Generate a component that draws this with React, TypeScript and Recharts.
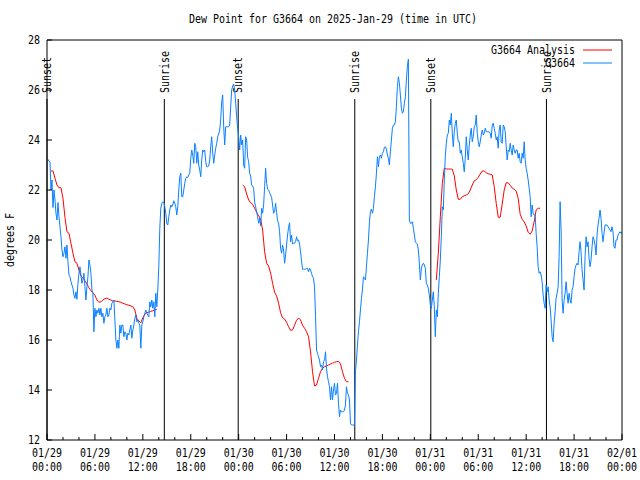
import { Legend, Line, LineChart, ReferenceLine, XAxis, YAxis } from "recharts";

// hours after 01/29 00:00 UTC
const timeTicks = [0, 2, 4, 6, 8, 10, 12, 14, 16, 18, 20, 22, 24, 26, 28, 30, 32, 34, 36, 38, 40, 42, 44, 46, 48, 50, 52, 54, 56, 58, 60, 62, 64, 66, 68, 70, 72];
const tickDates = ["01/29", "01/29", "01/29", "01/29", "01/30", "01/30", "01/30", "01/30", "01/31", "01/31", "01/31", "01/31", "02/01"];
const tickTimes = ["00:00", "06:00", "12:00", "18:00", "00:00", "06:00", "12:00", "18:00", "00:00", "06:00", "12:00", "18:00", "00:00"];
const dewTicks = [12, 14, 16, 18, 20, 22, 24, 26, 28];

const sunHours = [0, 14.69, 23.94, 38.54, 48.06, 62.54];
const sunNames = ["Sunset", "Sunrise", "Sunset", "Sunrise", "Sunset", "Sunrise"];
const SUN_LINE_TOP = 25.64;

const legendOrder = ["G3664 Analysis", "G3664"];

// station observations, one every 7.5 minutes
const OBS_STEP_H = 0.125;
const obsDewpoint = [
  23.25, 23.23, 23.15, 23.13, 22.0, 22.4, 21.3, 22.0, 21.6, 21.07,
  20.8, 21.5, 20.93, 20.53, 20.13, 19.6, 19.33, 19.47, 19.73, 19.27,
  19.8, 19.13, 18.6, 18.53, 18.33, 18.2, 18.07, 17.8, 17.67, 17.93,
  17.63, 18.27, 18.67, 18.93, 18.6, 18.27, 18.4, 18.67, 18.13, 17.6,
  18.13, 18.53, 19.2, 19.0, 18.67, 18.0, 17.87, 16.33, 17.27, 16.93,
  17.2, 17.07, 17.27, 17.0, 17.27, 16.93, 17.07, 16.67, 16.93, 17.0,
  17.27, 16.93, 17.0, 17.27, 17.2, 17.47, 17.53, 17.6, 16.8, 16.0,
  15.67, 16.0, 15.67, 16.6, 16.27, 16.6, 16.6, 16.13, 16.33, 16.27,
  16.0, 16.27, 16.2, 16.4, 16.6, 16.07, 16.4, 16.6, 16.87, 17.0,
  16.73, 16.8, 16.67, 16.6, 15.67, 16.6, 16.73, 16.93, 17.07, 17.2,
  17.07, 17.0, 16.93, 17.53, 17.33, 17.6, 17.27, 17.53, 16.93, 17.87,
  17.33, 18.0, 18.93, 20.47, 21.27, 21.47, 21.53, 21.5, 21.33, 21.07,
  20.67, 20.6, 20.93, 21.2, 21.4, 21.33, 21.4, 21.57, 21.47, 21.33,
  21.0, 21.33, 22.0, 22.53, 22.67, 21.73, 21.73, 22.0, 22.27, 22.47,
  22.53, 22.5, 22.6, 22.67, 23.27, 23.6, 23.4, 23.07, 23.87, 23.73,
  23.07, 23.53, 23.0, 22.8, 22.53, 23.2, 23.6, 23.53, 23.6, 23.13,
  22.93, 22.93, 22.96, 23.2, 23.73, 24.13, 23.47, 23.07, 23.4, 23.67,
  23.87, 24.13, 24.24, 24.4, 24.8, 25.53, 25.8, 24.53, 23.8, 24.53,
  24.53, 24.53, 24.53, 24.6, 25.33, 26.0, 26.16, 26.24, 26.0, 25.47,
  24.93, 24.47, 24.13, 23.6, 24.2, 23.8, 24.0, 23.0, 22.87, 24.13,
  24.0, 23.31, 23.13, 22.67, 22.56, 22.2, 22.16, 22.07, 21.53, 21.33,
  21.13, 20.93, 20.67, 20.87, 20.56, 21.27, 21.07, 21.4, 22.13, 22.87,
  22.27, 22.03, 22.0, 21.89, 21.8, 21.71, 21.4, 21.07, 21.13, 21.47,
  21.09, 20.77, 20.67, 20.33, 19.67, 19.47, 19.8, 19.6, 19.07, 19.4,
  19.8, 20.2, 20.51, 20.69, 19.93, 20.2, 19.84, 19.87, 19.87, 19.93,
  20.13, 19.97, 20.0, 19.84, 19.53, 19.17, 18.83, 18.83, 18.83, 18.83,
  18.87, 18.87, 18.73, 18.87, 18.8, 18.67, 18.53, 18.47, 18.13, 16.93,
  15.6, 15.47, 15.33, 15.2, 14.93, 15.0, 14.8, 15.13, 15.2, 15.53,
  14.87, 14.53, 14.33, 14.13, 13.6, 14.13, 13.6, 14.0, 14.27, 13.8,
  13.87, 14.27, 13.47, 12.93, 13.2, 13.13, 13.13, 13.13, 13.2, 13.4,
  14.13, 13.87, 13.8, 13.6, 12.67, 12.6, 12.6, 12.6, 12.6, 14.73,
  15.2, 15.8, 16.33, 16.73, 17.2, 17.67, 18.0, 18.53, 18.47, 18.4,
  18.93, 19.47, 20.0, 20.73, 21.13, 21.23, 21.07, 21.27, 21.73, 22.13,
  22.67, 23.33, 22.93, 23.33, 23.4, 23.27, 23.47, 23.53, 23.71, 23.73,
  23.63, 23.4, 23.27, 23.0, 23.53, 24.0, 24.47, 24.6, 24.6, 24.73,
  25.33, 26.13, 26.53, 26.27, 25.8, 25.27, 25.07, 25.13, 25.47, 25.73,
  26.4, 26.93, 27.23, 20.8, 20.67, 20.67, 20.73, 20.47, 20.2, 19.93,
  19.87, 19.84, 19.6, 19.07, 18.4, 18.87, 19.0, 19.07, 19.0, 18.87,
  18.27, 18.2, 18.07, 17.8, 17.4, 17.27, 17.6, 17.93, 17.33, 16.13,
  17.2, 16.93, 17.87, 18.53, 19.2, 20.13, 21.33, 21.2, 22.4, 23.33,
  23.87, 24.2, 24.27, 24.8, 24.6, 25.07, 24.27, 23.73, 24.33, 24.67,
  24.8, 24.27, 23.93, 23.93, 23.47, 23.6, 23.33, 23.07, 22.73, 23.27,
  24.13, 23.6, 23.2, 23.8, 24.2, 24.47, 23.93, 24.13, 24.53, 24.6,
  25.0, 24.27, 23.93, 23.73, 23.93, 24.2, 24.4, 24.2, 24.27, 24.47,
  24.33, 24.33, 24.33, 24.33, 24.27, 24.07, 24.6, 24.67, 24.47, 24.27,
  24.0, 24.13, 23.67, 24.4, 24.6, 23.93, 23.87, 24.6, 24.53, 24.33,
  23.73, 23.2, 23.6, 23.53, 23.87, 23.6, 23.4, 23.8, 23.6, 23.47,
  23.6, 23.6, 23.27, 23.47, 23.13, 23.07, 23.47, 23.27, 23.93, 23.2,
  22.87, 22.67, 22.4, 22.07, 21.73, 20.93, 21.4, 21.07, 21.0, 21.0,
  20.27, 19.73, 18.93, 18.67, 18.73, 18.6, 18.33, 17.8, 17.47, 17.27,
  18.2, 17.93, 18.13, 17.6, 17.33, 16.8, 16.13, 15.93, 16.67, 17.13,
  17.67, 17.87, 18.13, 19.33, 21.53, 20.4, 17.6, 17.07, 17.6, 17.87,
  18.33, 17.87, 17.47, 17.87, 17.6, 17.47, 18.0, 18.13, 18.53, 18.87,
  19.0, 19.07, 19.0, 19.53, 19.93, 19.53, 18.8, 18.4, 18.0, 19.33,
  20.13, 19.73, 19.93, 19.27, 18.93, 19.2, 19.73, 20.13, 20.0, 19.8,
  19.4, 20.2, 20.6, 20.87, 21.2, 20.87, 20.27, 19.93, 20.27, 20.6,
  20.6, 20.6, 20.53, 20.47, 20.4, 20.33, 20.53, 20.33, 19.73, 19.67,
  20.0, 20.0, 20.2, 20.27, 20.33, 20.27, 20.3,
];

// analysis, only sunset to sunrise, one every 15 minutes
const ANALYSIS_STEP_H = 0.25;
const analysisStarts = [0.5, 24.5, 48.75];
const analysisNight1 = [
  22.76, 22.76, 22.47, 22.2, 22.09, 22.09, 21.67, 20.9, 20.33, 20.27,
  19.87, 19.47, 19.13, 19.07, 18.8, 18.56, 18.47, 18.37, 18.24, 18.09,
  17.97, 17.89, 17.79, 17.6, 17.51, 17.53, 17.6, 17.65, 17.68, 17.63,
  17.6, 17.56, 17.56, 17.55, 17.53, 17.51, 17.47, 17.44, 17.41, 17.39,
  17.36, 17.33, 17.2, 16.87, 16.76, 16.69, 16.89, 17.03, 17.09, 17.12,
  17.15, 17.17, 17.21, 17.23,
];
const analysisNight2 = [
  22.2, 22.13, 21.84, 21.6, 21.49, 21.43, 21.27, 21.11, 20.97, 20.84,
  20.4, 19.53, 19.07, 18.96, 18.67, 18.27, 17.91, 17.76, 17.47, 17.09,
  16.89, 16.84, 16.71, 16.53, 16.39, 16.4, 16.59, 16.79, 16.88, 16.8,
  16.59, 16.47, 16.33, 16.13, 15.53, 14.73, 14.16, 14.2, 14.47, 14.73,
  14.87, 14.93, 14.96, 15.0, 15.04, 15.07, 15.11, 15.13, 15.15, 15.04,
  14.73, 14.47, 14.33, 14.33,
];
const analysisNight3 = [
  18.4, 19.47, 20.93, 22.27, 22.87, 22.84, 22.84, 22.84, 22.83, 22.56,
  22.0, 21.63, 21.63, 21.73, 21.77, 21.8, 21.85, 22.0, 22.2, 22.37,
  22.41, 22.51, 22.64, 22.76, 22.76, 22.69, 22.65, 22.63, 22.6, 22.13,
  21.47, 20.91, 20.91, 21.44, 22.0, 22.29, 22.29, 22.19, 22.08, 22.03,
  21.96, 21.67, 21.03, 20.83, 20.73, 20.56, 20.31, 20.23, 20.36, 20.73,
  21.2, 21.27, 21.27,
];

const obsData = obsDewpoint.map((v, i) => ({ h: i * OBS_STEP_H, v }));
const analysisData = [analysisNight1, analysisNight2, analysisNight3].flatMap((night, n) => {
  const pts: { h: number; v: number | null }[] = night.map((v, i) => ({ h: analysisStarts[n] + i * ANALYSIS_STEP_H, v }));
  const last = pts[pts.length - 1].h;
  if (n < 2) pts.push({ h: last + 0.1, v: null });
  return pts;
});

const FONT = "DejaVu Sans Mono";
const CHAR_W = 6;

const Mono = (props: any) => {
  const { children, ...rest } = props;
  const s = String(children);
  return (
    <text fontFamily={FONT} fontSize={12} fill="#000" textLength={s.length * CHAR_W} lengthAdjust="spacingAndGlyphs" {...rest}>
      {s}
    </text>
  );
};

const BottomTick = ({ x, y, payload }: any) => {
  const k = payload.value / 6;
  const major = Number.isInteger(k);
  return (
    <g>
      <line x1={x} x2={x} y1={y} y2={y - (major ? 6 : 3)} stroke="#000" />
      {major && (
        <>
          <Mono x={x} y={y + 17} textAnchor="middle">{tickDates[k]}</Mono>
          <Mono x={x} y={y + 31} textAnchor="middle">{tickTimes[k]}</Mono>
        </>
      )}
    </g>
  );
};

const TopTick = ({ x, y, payload }: any) => {
  const major = Number.isInteger(payload.value / 6);
  return <line x1={x} x2={x} y1={y} y2={y + (major ? 6 : 3)} stroke="#000" />;
};

const LeftTick = ({ x, y, payload }: any) => (
  <g>
    <line x1={x} x2={x + 5} y1={y} y2={y} stroke="#000" />
    <Mono x={x - 7} y={y + 4} textAnchor="end">{payload.value}</Mono>
  </g>
);

const RightTick = ({ x, y }: any) => <line x1={x} x2={x - 5} y1={y} y2={y} stroke="#000" />;

const SunLabel = ({ viewBox, text }: any) => {
  const lx = viewBox.x;
  const ly = viewBox.y - 6;
  return (
    <Mono x={lx} y={ly} dy="0.35em" textAnchor="start" transform={`rotate(-90, ${lx}, ${ly})`}>
      {text}
    </Mono>
  );
};

const LegendBox = ({ payload }: any) => {
  const items = [...(payload || [])].sort((a: any, b: any) => legendOrder.indexOf(a.value) - legendOrder.indexOf(b.value));
  return (
    <svg width={180} height={30} style={{ display: "block" }}>
      {items.map((p: any, i: number) => (
        <g key={p.value}>
          <Mono x={135} y={12 + i * 13} textAnchor="end">{p.value}</Mono>
          <line x1={143} x2={172} y1={8 + i * 13} y2={8 + i * 13} stroke={p.color} />
        </g>
      ))}
    </svg>
  );
};

export default function App() {
  return (
    <div style={{ position: "absolute", left: 0, top: 0, width: 640, height: 480, background: "#fff" }}>
      <LineChart width={640} height={480} margin={{ top: 0, right: 0, bottom: 0, left: 0 }}>
        <XAxis dataKey="h" type="number" domain={[0, 72]} ticks={timeTicks} height={40} tickSize={0} tickMargin={0}
          axisLine={{ stroke: "#000" }} tickLine={false} tick={<BottomTick />} interval={0} />
        <XAxis xAxisId="top" orientation="top" dataKey="h" type="number" domain={[0, 72]} ticks={timeTicks} height={40}
          tickSize={0} tickMargin={0} axisLine={{ stroke: "#000" }} tickLine={false} tick={<TopTick />} interval={0} />
        <YAxis type="number" domain={[12, 28]} ticks={dewTicks} width={47} tickSize={0} tickMargin={0}
          axisLine={{ stroke: "#000" }} tickLine={false} tick={<LeftTick />} interval={0} />
        <YAxis yAxisId="right" orientation="right" type="number" domain={[12, 28]} ticks={dewTicks} width={18}
          tickSize={0} tickMargin={0} axisLine={{ stroke: "#000" }} tickLine={false} tick={<RightTick />} interval={0} />
        {sunHours.map((h, i) => (
          <ReferenceLine key={i} segment={[{ x: h, y: 12 }, { x: h, y: SUN_LINE_TOP }]} stroke="#000" strokeWidth={1}
            label={(p: any) => <SunLabel viewBox={p.viewBox} text={sunNames[i]} />} />
        ))}
        <Line data={analysisData} dataKey="v" name="G3664 Analysis" type="linear" stroke="#ff0000" strokeWidth={1}
          dot={false} activeDot={false} connectNulls={false} isAnimationActive={false} />
        <Line data={obsData} dataKey="v" name="G3664" type="linear" stroke="#0a80ff" strokeWidth={1}
          dot={false} activeDot={false} isAnimationActive={false} />
        <Legend layout="vertical" align="center" verticalAlign="middle" content={<LegendBox />}
          wrapperStyle={{ position: "absolute", top: 42, left: 440, width: 180, height: 30 }} />
      </LineChart>
      <svg width={640} height={480} style={{ position: "absolute", left: 0, top: 0, pointerEvents: "none" }}>
        <Mono x={333} y={23} textAnchor="middle">Dew Point for G3664 on 2025-Jan-29 (time in UTC)</Mono>
        <Mono x={10} y={240} dy="0.35em" textAnchor="middle" transform="rotate(-90, 10, 240)">degrees F</Mono>
      </svg>
    </div>
  );
}
